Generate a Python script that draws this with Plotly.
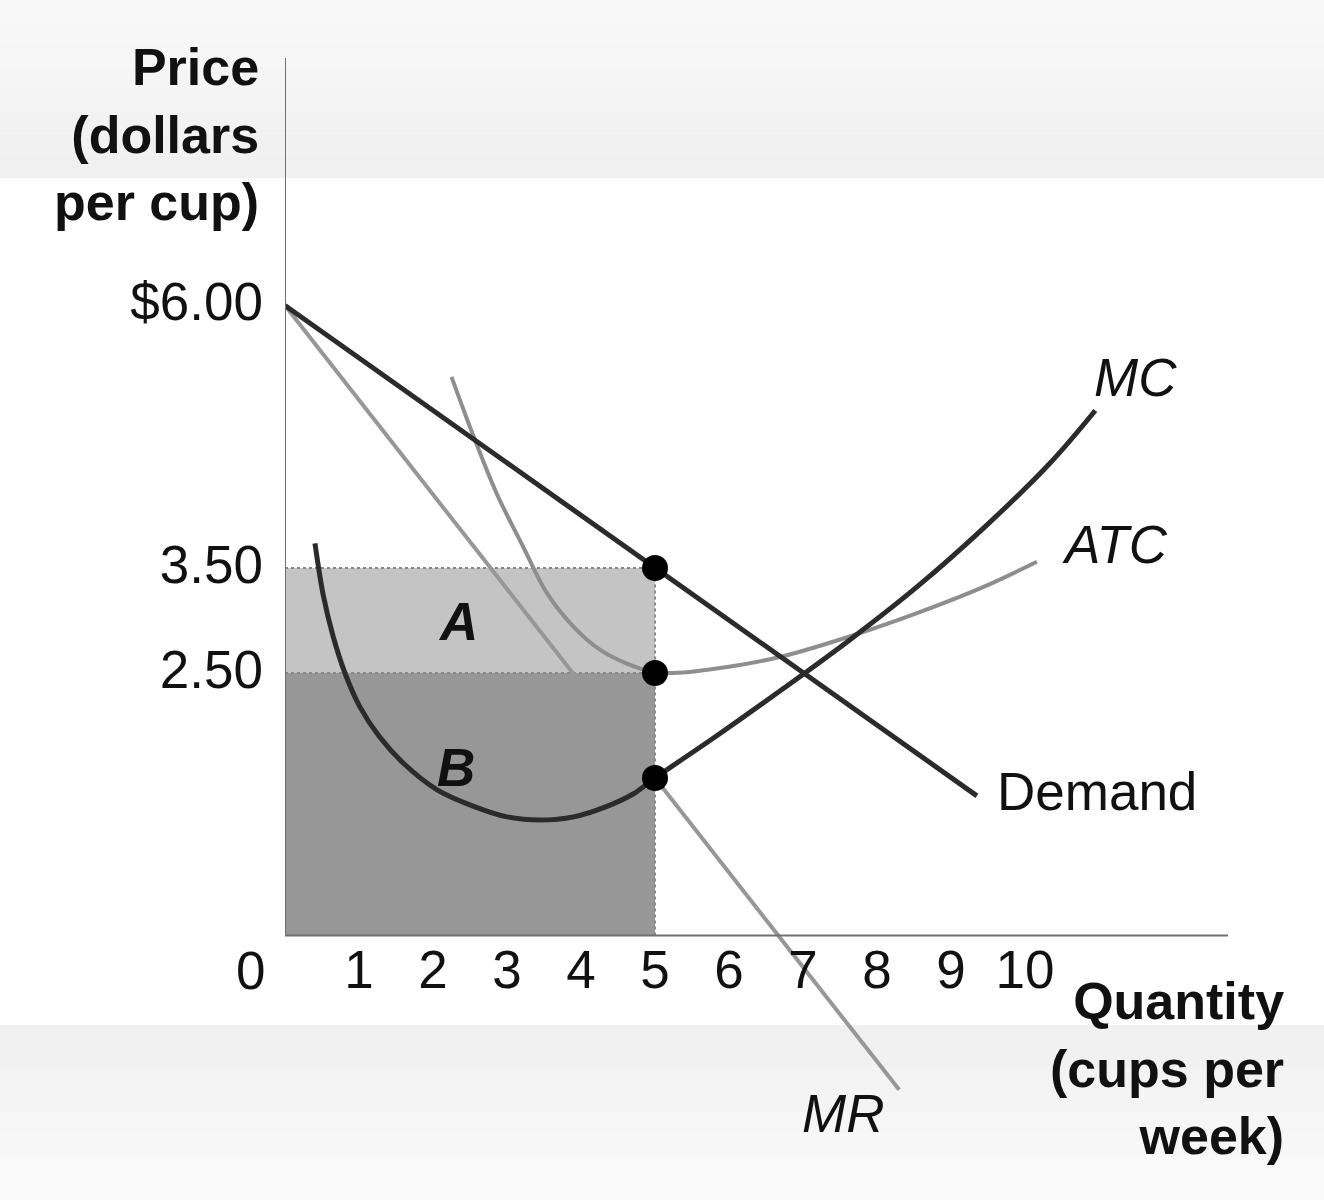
import plotly.graph_objects as go

# ---- data ----
demand_q = [0, 9.35]
demand_p = [6.0, 1.33]

mr_q = [0, 8.3]
mr_p = [6.0, -1.47]

atc_q = [2.25, 2.55, 2.86, 3.22, 3.54, 3.90, 4.26, 4.62, 4.98, 5.24, 6.0, 6.73, 7.64, 8.54, 9.44, 10.16]
atc_p = [5.32, 4.75, 4.21, 3.70, 3.26, 2.94, 2.72, 2.59, 2.51, 2.50, 2.56, 2.66, 2.85, 3.07, 3.32, 3.56]

mc_q = [0.405, 0.52, 0.65, 0.81, 1.01, 1.28, 1.60, 2.05, 2.55, 3.0, 3.45, 3.90, 4.35, 4.71, 5.0, 5.83, 6.73, 7.64, 8.54, 9.44, 10.34, 10.95]
mc_p = [3.735, 3.23, 2.85, 2.50, 2.18, 1.89, 1.64, 1.39, 1.23, 1.13, 1.10, 1.13, 1.23, 1.35, 1.50, 1.90, 2.35, 2.82, 3.32, 3.88, 4.50, 5.0]

dot_q = [5, 5, 5]
dot_p = [3.5, 2.5, 1.5]

q_star = 5
price = 3.5
atc_star = 2.5

x_tickvals = [1, 2, 3, 4, 5, 6, 7, 8, 9, 10]
x_ticktext = ["1", "2", "3", "4", "5", "6", "7", "8", "9", "10"]
y_tickvals = [2.5, 3.5, 6.0]
y_ticktext = ["2.50", "3.50", "$6.00"]

# ---- layout geometry ----
W, H = 1324, 1200
ML, MR_, MT, MB = 285, 96, 58, 96
PW, PH = W - ML - MR_, H - MT - MB
XMAX = PW / 74.0
YMAX = (935.5 - MT) / 105.0
YMIN = YMAX - PH / 105.0


def px(x):
    return (x - ML) / PW


def py(y):
    return (H - MB - y) / PH


FONT = "Liberation Sans, Arial, Helvetica, sans-serif"
FS = 53
DARK = "#2b2b2b"
TXT = "#111111"

fig = go.Figure()

fig.add_trace(go.Scatter(x=mr_q, y=mr_p, mode="lines",
                         line=dict(color="#979797", width=4), hoverinfo="skip"))
fig.add_trace(go.Scatter(x=atc_q, y=atc_p, mode="lines", line_shape="spline",
                         line=dict(color="#8e8e8e", width=4), hoverinfo="skip"))
fig.add_trace(go.Scatter(x=demand_q, y=demand_p, mode="lines",
                         line=dict(color=DARK, width=5), hoverinfo="skip"))
fig.add_trace(go.Scatter(x=mc_q, y=mc_p, mode="lines", line_shape="spline",
                         line=dict(color=DARK, width=5), hoverinfo="skip"))
fig.add_trace(go.Scatter(x=dot_q, y=dot_p, mode="markers",
                         marker=dict(color="black", size=26), hoverinfo="skip"))

shapes = []


def band(fy0, fy1, c0, c1, n=8):
    out = []
    for i in range(n):
        a = fy0 + (fy1 - fy0) * i / n
        b = fy0 + (fy1 - fy0) * (i + 1) / n
        t = (i + 0.5) / n
        v = round(c0 + (c1 - c0) * t)
        out.append(dict(type="rect", xref="paper", yref="paper",
                        x0=px(0), x1=px(W), y0=py(a), y1=py(b),
                        fillcolor=f"rgb({v},{v},{v})", line=dict(width=0), layer="below"))
    return out


shapes += band(0, 178, 249, 239)
shapes += band(1025, 1200, 239, 251)

# profit (A) and cost (B) areas
shapes.append(dict(type="rect", x0=0, x1=q_star, y0=atc_star, y1=price,
                   fillcolor="#c4c4c4", line=dict(width=0), layer="below"))
shapes.append(dict(type="rect", x0=0, x1=q_star, y0=0, y1=atc_star,
                   fillcolor="#979797", line=dict(width=0), layer="below"))
for (x0, y0, x1, y1) in [(0, price, q_star, price), (0, atc_star, q_star, atc_star), (q_star, 0, q_star, price)]:
    shapes.append(dict(type="line", x0=x0, y0=y0, x1=x1, y1=y1,
                       line=dict(color="#888888", width=2, dash="dot"), layer="below"))
# axis lines
shapes.append(dict(type="line", x0=0, x1=0, y0=0, y1=YMAX,
                   line=dict(color="#707070", width=2)))
shapes.append(dict(type="line", x0=0, x1=XMAX, y0=0, y1=0,
                   line=dict(color="#707070", width=2)))

annotations = [
    dict(xref="paper", yref="paper", x=px(261), y=py(134),
         text="<b>Price<br>(dollars<br>per cup)</b>", align="right",
         xanchor="right", yanchor="middle", showarrow=False, font=dict(size=52, color=TXT)),
    dict(xref="paper", yref="paper", x=px(1286), y=py(1068),
         text="<b>Quantity<br>(cups per<br>week)</b>", align="right",
         xanchor="right", yanchor="middle", showarrow=False, font=dict(size=52, color=TXT)),
    dict(xref="paper", yref="paper", x=px(250), y=py(970), text="0",
         xanchor="center", yanchor="middle", showarrow=False, font=dict(size=FS, color=TXT)),
    dict(xref="paper", yref="paper", x=px(843), y=py(1113), text="<i>MR</i>",
         xanchor="center", yanchor="middle", showarrow=False, font=dict(size=FS, color=TXT)),
    dict(x=11.49, y=5.31, text="<i>MC</i>", showarrow=False, font=dict(size=FS, color=TXT)),
    dict(x=11.22, y=3.72, text="<i>ATC</i>", showarrow=False, font=dict(size=FS, color=TXT)),
    dict(x=10.97, y=1.37, text="Demand", showarrow=False, font=dict(size=FS, color=TXT)),
    dict(x=2.34, y=2.99, text="<b><i>A</i></b>", showarrow=False, font=dict(size=FS, color=TXT)),
    dict(x=2.31, y=1.6, text="<b><i>B</i></b>", showarrow=False, font=dict(size=FS, color=TXT)),
]

fig.update_layout(
    width=W, height=H,
    margin=dict(l=ML, r=MR_, t=MT, b=MB, pad=0),
    paper_bgcolor="white", plot_bgcolor="rgba(0,0,0,0)",
    showlegend=False,
    font=dict(family=FONT, size=FS, color=TXT),
    shapes=shapes, annotations=annotations,
    xaxis=dict(range=[0, XMAX], showgrid=False, zeroline=False,
               tickvals=x_tickvals, ticktext=x_ticktext, ticks="",
               showline=False,
               anchor="free", position=(0 - YMIN) / (YMAX - YMIN) + 2.0 / PH,
               tickfont=dict(size=FS, color=TXT)),
    yaxis=dict(range=[YMIN, YMAX], showgrid=False, zeroline=False,
               tickvals=y_tickvals, ticktext=y_ticktext, ticks="",
               showline=False, ticklabelstandoff=21, ticklabelshift=-4,
               tickfont=dict(size=FS, color=TXT)),
)

fig.write_html("out.html")
